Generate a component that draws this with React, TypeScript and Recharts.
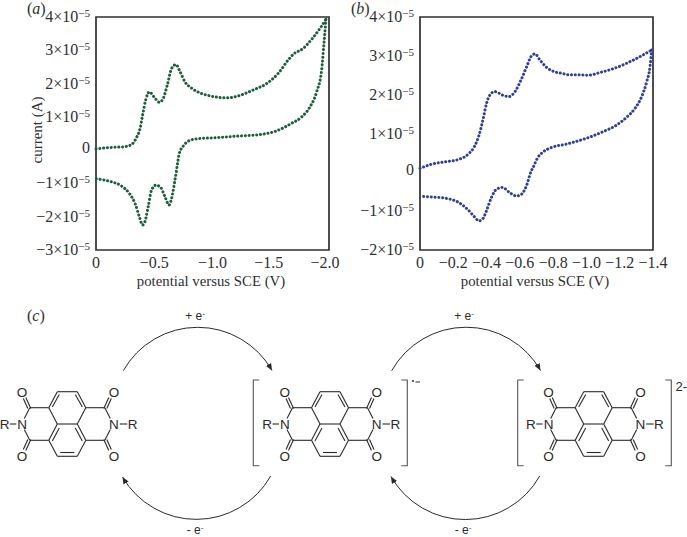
import React from 'react'
import { LineChart, Line, XAxis, YAxis, ReferenceArea } from 'recharts'

// cyclic voltammograms: [potential (V), current (1e-5 A)]
const sweepOutA = [
  [0, 0.04], [-0.12, 0.08], [-0.235, 0.1], [-0.306, 0.17], [-0.343, 0.35], [-0.378, 0.65], [-0.4, 1.05],
  [-0.426, 1.5], [-0.458, 1.75], [-0.498, 1.6], [-0.544, 1.44], [-0.578, 1.56], [-0.612, 1.96], [-0.65, 2.46],
  [-0.687, 2.57], [-0.721, 2.36], [-0.764, 2.05], [-0.821, 1.86], [-0.893, 1.72], [-0.979, 1.63], [-1.122, 1.57],
  [-1.221, 1.63], [-1.35, 1.81], [-1.465, 2.0], [-1.565, 2.31], [-1.65, 2.71], [-1.694, 2.88], [-1.78, 3.06],
  [-1.851, 3.33], [-1.923, 3.66], [-1.974, 3.93],
]
const sweepBackA = [
  [-1.974, 3.93], [-1.957, 3.21], [-1.937, 2.41], [-1.894, 1.75], [-1.837, 1.3], [-1.766, 1.0], [-1.665, 0.78],
  [-1.551, 0.58], [-1.408, 0.47], [-1.207, 0.42], [-1.007, 0.37], [-0.864, 0.34], [-0.792, 0.27], [-0.755, 0.15],
  [-0.715, -0.1], [-0.698, -0.45], [-0.678, -0.9], [-0.655, -1.35], [-0.627, -1.65], [-0.592, -1.4], [-0.555, -1.12],
  [-0.515, -1.05], [-0.477, -1.2], [-0.448, -1.7], [-0.42, -2.15], [-0.4, -2.25], [-0.372, -2.0], [-0.335, -1.6],
  [-0.286, -1.3], [-0.22, -1.08], [-0.12, -0.94], [0, -0.86],
]
const sweepOutB = [
  [0, 0.1], [-0.07, 0.21], [-0.15, 0.27], [-0.23, 0.33], [-0.29, 0.47], [-0.326, 0.66], [-0.355, 0.96],
  [-0.38, 1.39], [-0.4, 1.78], [-0.42, 1.99], [-0.45, 2.08], [-0.495, 1.99], [-0.535, 1.95], [-0.571, 2.08],
  [-0.607, 2.38], [-0.641, 2.72], [-0.667, 2.98], [-0.691, 3.05], [-0.721, 2.89], [-0.761, 2.7], [-0.801, 2.6],
  [-0.851, 2.55], [-0.901, 2.51], [-0.962, 2.51], [-1.012, 2.5], [-1.082, 2.57], [-1.162, 2.67], [-1.242, 2.81],
  [-1.322, 2.98], [-1.392, 3.15],
]
const sweepBackB = [
  [-1.392, 3.15], [-1.382, 2.72], [-1.362, 2.33], [-1.332, 1.95], [-1.292, 1.65], [-1.242, 1.42], [-1.182, 1.22],
  [-1.102, 1.05], [-1.002, 0.88], [-0.882, 0.73], [-0.791, 0.64], [-0.741, 0.53], [-0.705, 0.36], [-0.681, 0.14],
  [-0.667, 0.02], [-0.641, -0.33], [-0.611, -0.56], [-0.581, -0.61], [-0.541, -0.53], [-0.495, -0.39],
  [-0.461, -0.43], [-0.431, -0.63], [-0.401, -0.97], [-0.38, -1.18], [-0.355, -1.25], [-0.326, -1.14],
  [-0.29, -0.97], [-0.23, -0.77], [-0.17, -0.68], [-0.09, -0.64], [0, -0.62],
]

const xTicksA = [0, -0.5, -1, -1.5, -2]
const xTicksB = [0, -0.2, -0.4, -0.6, -0.8, -1, -1.2, -1.4]
const yTicksA = [-3, -2, -1, 0, 1, 2, 3, 4]
const yTicksB = [-2, -1, 0, 1, 2, 3, 4]

const SERIF = '"Liberation Serif", serif'
const SANS = '"Liberation Sans", sans-serif'
const INK = '#2f2f2f'
const BOND = '#2a2a2a'

const toPoints = (rows: number[][]) => rows.map(([v, i]) => ({ v, i }))

function PowerTick({ x, y, payload }: any) {
  const val = payload.value
  if (val === 0) {
    return <text x={x} y={y + 3} textAnchor="end" fontFamily={SERIF} fontSize={16} fill={INK}>0</text>
  }
  return (
    <text x={x} y={y + 5} textAnchor="end" fontFamily={SERIF} fontSize={16} fill={INK}>
      {val < 0 ? '\u2212' : ''}{Math.abs(val)}{'\u00d7'}10
      <tspan fontSize={11} dy={-5}>{'\u2212'}5</tspan>
    </text>
  )
}

function PotentialTick({ x, y, payload }: any) {
  const val = payload.value
  const label = val === 0 ? '0' : `\u2212${Math.abs(val).toFixed(1)}`
  // the last labels of panel (a) sit a little inside their positions
  const nudge = val === -2 ? -4 : val === -1.5 ? -2 : 0
  return <text x={x + nudge} y={y + 10} textAnchor="middle" fontFamily={SERIF} fontSize={16} fill={INK}>{label}</text>
}

function VoltPanel({ left, color, out, back, xMax, xTicks, yMin, yTicks, yLabel }: any) {
  return (
    <div style={{ position: 'absolute', left, top: 0 }}>
      <LineChart width={345} height={295} margin={{ top: 17, right: 16, bottom: 20, left: 36 }}>
        <XAxis
          dataKey="v"
          type="number"
          domain={[xMax, 0]}
          reversed
          ticks={xTicks}
          tick={<PotentialTick />}
          tickLine={false}
          axisLine={false}
          height={25}
          interval={0}
          allowDuplicatedCategory={false}
        />
        <YAxis
          dataKey="i"
          type="number"
          domain={[yMin, 4]}
          ticks={yTicks}
          tick={<PowerTick />}
          tickLine={false}
          axisLine={false}
          tickMargin={0}
          width={60}
          interval={0}
        />
        <ReferenceArea x1={xMax} x2={0} y1={yMin} y2={4} fill="none" stroke={INK} strokeWidth={1.7} ifOverflow="visible" />
        {[out, back].map((rows: number[][], idx: number) => (
          <Line
            key={idx}
            data={toPoints(rows)}
            dataKey="i"
            type="monotone"
            stroke={color}
            strokeWidth={3}
            strokeLinecap="round"
            strokeDasharray="0.1 3.7"
            dot={false}
            isAnimationActive={false}
          />
        ))}
        <text x={211} y={286} textAnchor="middle" fontFamily={SERIF} fontSize={14.8} fill={INK}>potential versus SCE (V)</text>
        {yLabel && (
          <text transform="translate(42,130) rotate(-90)" textAnchor="middle" fontFamily={SERIF} fontSize={15} fill={INK}>{yLabel}</text>
        )}
      </LineChart>
    </div>
  )
}

function Bond({ a, b }: { a: number[]; b: number[] }) {
  return <line x1={a[0]} y1={a[1]} x2={b[0]} y2={b[1]} stroke={BOND} strokeWidth={1.1} />
}

function HalfImide({ sx }: { sx: number }) {
  const c = (x: number, y: number) => [sx * x, y]
  const atom = { fontFamily: SANS, fontSize: 13.5, fill: BOND, textAnchor: 'middle' as const }
  // labels on the left side sit slightly closer to the core
  const nx = sx > 0 ? 46.7 : -45.2
  const rx = sx > 0 ? 65.3 : -62.8
  return (
    <g>
      {[1, -1].map((sy) => (
        <g key={sy}>
          <Bond a={c(18.5, sy * 16.3)} b={c(37.5, sy * 16.3)} />
          <Bond a={c(37.5, sy * 16.3)} b={c(43, sy * 5.5)} />
          <Bond a={c(36.5, sy * 15.5)} b={c(41.5, sy * 26.5)} />
          <Bond a={c(39.5, sy * 15.5)} b={c(44, sy * 25.5)} />
          <text x={nx} y={sy * 32 + 5} {...atom}>O</text>
        </g>
      ))}
      <text x={nx} y={5} {...atom}>N</text>
      <Bond a={[sx > 0 ? 52.5 : -51, 0]} b={[sx > 0 ? 60 : -57.5, 0]} />
      <text x={rx} y={5} {...atom}>R</text>
    </g>
  )
}

function Diimide({ x }: { x: number }) {
  return (
    <g transform={`translate(${x},424)`}>
      {[1, -1].map((s) => (
        <g key={s}>
          <Bond a={[s * 10, 0]} b={[s * 18.5, -16.3]} />
          <Bond a={[s * 18.5, -16.3]} b={[s * 10, -32.3]} />
          <Bond a={[s * 10, 0]} b={[s * 18.5, 16.3]} />
          <Bond a={[s * 18.5, 16.3]} b={[s * 10, 32.3]} />
          <Bond a={[s * 15, -17]} b={[s * 8, -29.5]} />
          <Bond a={[s * 15, 17]} b={[s * 8, 4]} />
          <HalfImide sx={s} />
        </g>
      ))}
      <Bond a={[-10, 0]} b={[10, 0]} />
      <Bond a={[-10, -32.3]} b={[10, -32.3]} />
      <Bond a={[-10, 32.3]} b={[10, 32.3]} />
      <Bond a={[-7, 28.5]} b={[7, 28.5]} />
    </g>
  )
}

function Bracket({ x, dir }: { x: number; dir: number }) {
  return <path d={`M${x + dir * 6} 380 H${x} V465.7 H${x + dir * 6}`} fill="none" stroke="#555" strokeWidth={1.1} />
}

function ElectronLabel({ x, y, sign }: { x: number; y: number; sign: string }) {
  return (
    <text x={x} y={y} textAnchor="middle" fontFamily={SANS} fontSize={12} fill={BOND}>
      {sign} e<tspan fontSize={8} dy={-4}>-</tspan>
    </text>
  )
}

function RedoxScheme() {
  const arc = { fill: 'none', stroke: BOND, strokeWidth: 1, markerEnd: 'url(#head)' }
  return (
    <svg width={687} height={537} style={{ position: 'absolute', left: 0, top: 0 }}>
      <defs>
        <marker id="head" markerUnits="userSpaceOnUse" markerWidth={8} markerHeight={6} refX={7} refY={3} orient="auto">
          <path d="M0 0 L7 3 L0 6 Z" fill={BOND} />
        </marker>
      </defs>
      <text x={27} y={321} fontFamily={SERIF} fontSize={16} fill={INK}>(<tspan fontStyle="italic">c</tspan>)</text>
      <text x={27} y={14} fontFamily={SERIF} fontSize={16} fill={INK}>(<tspan fontStyle="italic">a</tspan>)</text>
      <text x={351} y={14} fontFamily={SERIF} fontSize={16} fill={INK}>(<tspan fontStyle="italic">b</tspan>)</text>

      <path d="M123.3 370.7 A85.5 85.5 0 0 1 272 370.5" {...arc} />
      <path d="M270.7 476 A85.5 85.5 0 0 1 122.5 477" {...arc} />
      <path d="M391.7 370.7 A85.5 85.5 0 0 1 540.5 370.5" {...arc} />
      <path d="M539.7 476 A85.5 85.5 0 0 1 391 476.5" {...arc} />
      <ElectronLabel x={195} y={320} sign="+" />
      <ElectronLabel x={195} y={534} sign="-" />
      <ElectronLabel x={464} y={320} sign="+" />
      <ElectronLabel x={463} y={534} sign="-" />

      <Diimide x={67.3} />
      <Diimide x={330} />
      <Diimide x={593.7} />
      <Bracket x={253.3} dir={1} />
      <Bracket x={407.3} dir={-1} />
      <Bracket x={517.7} dir={1} />
      <Bracket x={671.3} dir={-1} />
      <circle cx={413} cy={381} r={1} fill={BOND} />
      <line x1={415.5} y1={382} x2={420} y2={382} stroke={BOND} strokeWidth={1} />
      <text x={675.5} y={391} fontFamily={SANS} fontSize={13} fill={BOND}>2-</text>
    </svg>
  )
}

export default function App() {
  return (
    <div style={{ position: 'absolute', left: 0, top: 0, width: 687, height: 537, background: '#fff' }}>
      <VoltPanel
        left={0}
        color="#1d5e3c"
        out={sweepOutA}
        back={sweepBackA}
        xMax={-2}
        xTicks={xTicksA}
        yMin={-3}
        yTicks={yTicksA}
        yLabel="current (A)"
      />
      <VoltPanel
        left={324}
        color="#33408f"
        out={sweepOutB}
        back={sweepBackB}
        xMax={-1.4}
        xTicks={xTicksB}
        yMin={-2}
        yTicks={yTicksB}
      />
      <RedoxScheme />
    </div>
  )
}
